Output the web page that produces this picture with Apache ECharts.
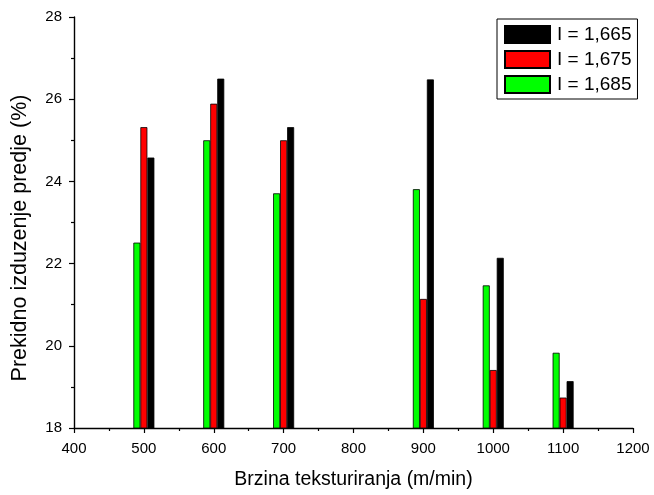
<!DOCTYPE html>
<html><head><meta charset="utf-8">
<script src="https://cdn.jsdelivr.net/npm/echarts@6/dist/echarts.min.js"></script>
<style>html,body{margin:0;padding:0;background:#fff}#c{width:654px;height:495px}</style>
</head><body><div id="c"></div>
<script>
const speeds = [500, 600, 700, 900, 1000, 1100];
const s1685 = [22.51, 25.0, 23.71, 23.81, 21.47, 19.83];
const s1675 = [25.32, 25.89, 25.0, 21.14, 19.41, 18.74];
const s1665 = [24.58, 26.5, 25.32, 26.48, 22.14, 19.14];
const seriesNames = ['I = 1,665', 'I = 1,675', 'I = 1,685'];
const colors = ['#000000', '#ff0000', '#00ff00'];

const font = 'Liberation Sans, Arial, sans-serif';
function pairs(vals){ return speeds.map((x,i)=>[x, vals[i]]); }
function bar(name, vals, color){
  return {
    name, type:'bar', data: pairs(vals), barWidth: 7, barGap: '0%',
    itemStyle:{color, borderColor:'#000', borderWidth:0.8},
    emphasis:{disabled:true}
  };
}
const chart = echarts.init(document.getElementById('c'));
chart.setOption({
  animation:false,
  backgroundColor:'#fff',
  grid:{left:74, right:21, top:17, bottom:63},
  legend:{
    orient:'vertical', left:497, top:19, data:seriesNames,
    itemWidth:45, itemHeight:17, itemGap:6,
    padding:[6,6,5,7],
    borderColor:'#000', borderWidth:1,
    textStyle:{fontFamily:font, fontSize:19, color:'#000', padding:[0,0,0,2]},
    icon:'rect'
  },
  xAxis:{
    type:'value', min:400, max:1200, interval:100,
    name:'Brzina teksturiranja (m/min)', nameLocation:'middle', nameGap:42,
    nameTextStyle:{fontFamily:font, fontSize:19.5, color:'#000'},
    axisLine:{show:true, lineStyle:{color:'#000', width:1.4}},
    axisTick:{show:true, length:5, lineStyle:{color:'#000', width:1.2}},
    minorTick:{show:true, splitNumber:2, length:3, lineStyle:{color:'#000', width:1.2}},
    axisLabel:{fontFamily:font, fontSize:15, color:'#000', margin:13, formatter:v=>String(v)},
    splitLine:{show:false}
  },
  yAxis:{
    type:'value', min:18, max:28, interval:2,
    name:'Prekidno izduzenje predje (%)', nameLocation:'middle', nameGap:43,
    nameTextStyle:{fontFamily:font, fontSize:21.5, color:'#000', padding:[0,31,0,0]},
    axisLine:{show:true, lineStyle:{color:'#000', width:1.4}},
    axisTick:{show:true, length:5, lineStyle:{color:'#000', width:1.2}},
    minorTick:{show:true, splitNumber:2, length:3, lineStyle:{color:'#000', width:1.2}},
    axisLabel:{fontFamily:font, fontSize:15, color:'#000', margin:12},
    splitLine:{show:false}
  },
  series:[
    bar(seriesNames[2], s1685, colors[2]),
    bar(seriesNames[1], s1675, colors[1]),
    bar(seriesNames[0], s1665, colors[0])
  ]
});
</script></body></html>
